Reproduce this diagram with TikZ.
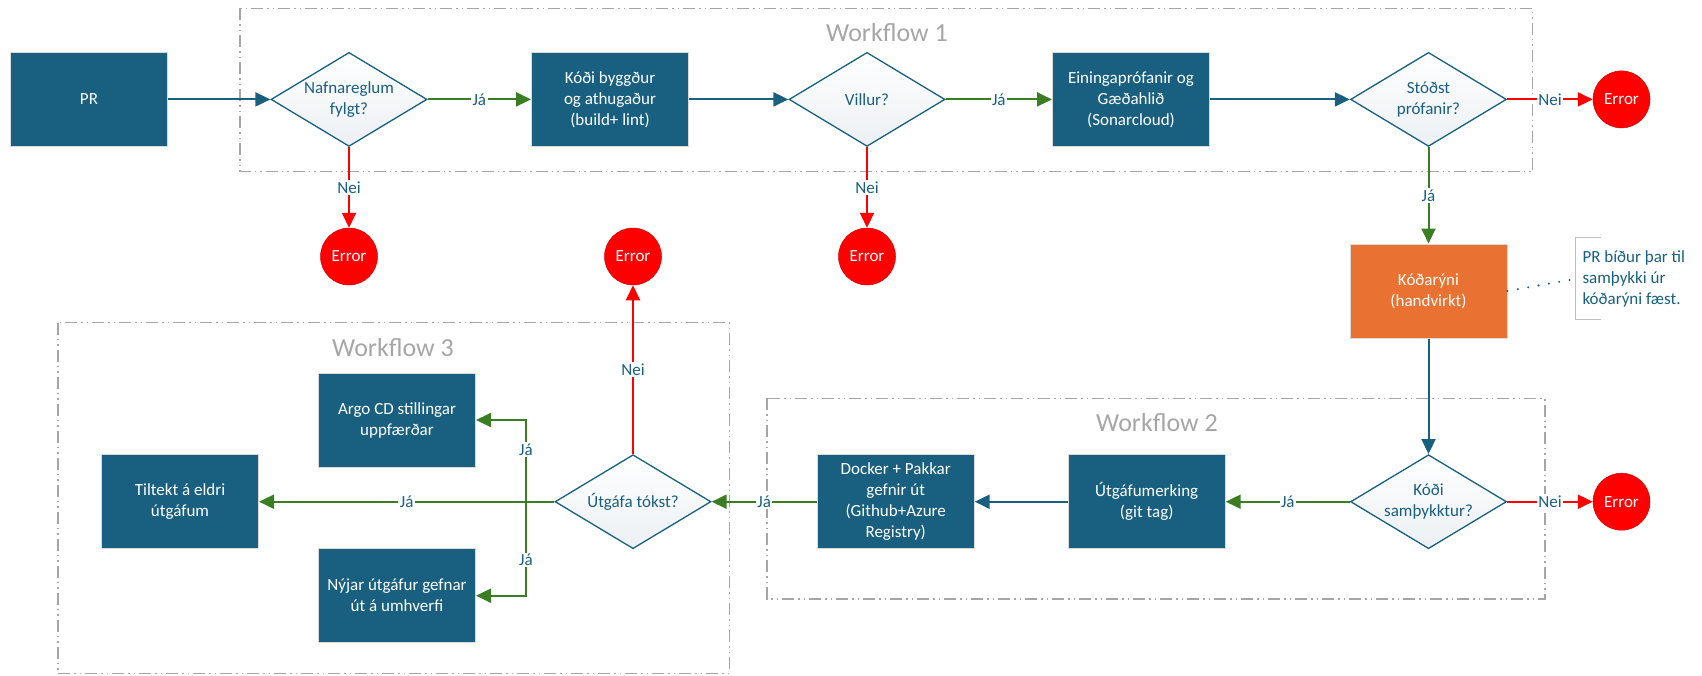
\documentclass[tikz,border=0pt]{standalone}
\usepackage{fontspec}
\setmainfont{Carlito}
\usetikzlibrary{shapes.geometric,arrows.meta}
\definecolor{boxblue}{RGB}{24,95,128}
\definecolor{yesgreen}{RGB}{58,125,34}
\definecolor{revieworange}{RGB}{233,113,50}
\definecolor{wfgray}{RGB}{166,166,166}
\definecolor{diafill}{RGB}{236,240,244}
\tikzset{
	txt/.style={font=\fontsize{17}{21}\selectfont, align=center},
	stage/.style={txt, draw=black!15, line width=1pt, fill=boxblue, text=white, minimum width=157pt, minimum height=94pt, inner sep=0pt},
	check/.style={diamond, draw=boxblue, line width=1.3pt, top color=white, bottom color=diafill, minimum width=156pt, minimum height=94pt, inner sep=0pt, label={[txt, text=boxblue]center:{#1}}},
	err/.style={circle, fill=red, draw=red!85!black, line width=.5pt, minimum size=57pt, inner sep=0pt, text=white, font=\fontsize{17}{21}\selectfont},
	flow/.style={line width=2pt, -{Triangle[length=15pt,width=14pt]}},
	go/.style={flow, boxblue},
	yes/.style={flow, yesgreen},
	no/.style={flow, red},
	lbl/.style={txt, fill=white, text=boxblue, inner sep=1.5pt},
	wf/.style={draw=wfgray, line width=1.5pt, dash pattern=on 12pt off 4pt on 1.5pt off 4pt on 1.5pt off 4pt},
	wftitle/.style={text=wfgray, font=\fontsize{26}{30}\selectfont}
}
\begin{document}
\begin{tikzpicture}[x=1pt, y=-1pt]
	\useasboundingbox (0,0) rectangle (1702,675);
	% workflow frames
	\draw[wf] (240,8.3) rectangle (1532.6,171.7);
	\draw[wf] (767,398.3) rectangle (1545,599);
	\draw[wf] (58,322.7) rectangle (729.5,673.3);
	\node[wftitle] (wf1) at (887,32.7) {Workflow 1};
	\node[wftitle] (wf2) at (1157,422.7) {Workflow 2};
	\node[wftitle] (wf3) at (393,348) {Workflow 3};

	% workflow 1
	\node[stage] (pr) at (89,99.4) {PR};
	\node[check={Nafnareglum\\fylgt?}] (names) at (349,99.4) {};
	\node[stage] (build) at (610,99.4) {Kóði byggður\\og athugaður\\(build+ lint)};
	\node[check={Villur?}] (bugs) at (867,99.4) {};
	\node[stage] (tests) at (1131,99.4) {Einingaprófanir og\\Gæðahlið\\(Sonarcloud)};
	\node[check={Stóðst\\prófanir?}] (passed) at (1428.5,99.4) {};
	\node[err] (err1) at (349,256.5) {Error};
	\node[err] (err2) at (867,256.5) {Error};
	\node[err] (err3) at (1621.5,99.4) {Error};
	\node[stage, fill=revieworange] (review) at (1428.5,291) {Kóðarýni\\(handvirkt)};

	% workflow 2
	\node[check={Kóði\\samþykktur?}] (approved) at (1428.5,501.7) {};
	\node[err] (err4) at (1621.5,501.7) {Error};
	\node[stage] (tag) at (1146.7,501.7) {Útgáfumerking\\(git tag)};
	\node[stage] (publish) at (895.7,501.7) {Docker + Pakkar\\gefnir út\\(Github+Azure\\Registry)};

	% workflow 3
	\node[check={Útgáfa tókst?}] (released) at (633,501.7) {};
	\node[err] (err5) at (633,256.5) {Error};
	\node[stage] (cleanup) at (180,501.7) {Tiltekt á eldri\\útgáfum};
	\node[stage] (argo) at (397,420) {Argo CD stillingar\\uppfærðar};
	\node[stage] (deploy) at (397,595.7) {Nýjar útgáfur gefnar\\út á umhverfi};

	% note
	\draw[black!25, line width=1pt] (1601,237.7) -- (1575,237.7) -- (1575,319) -- (1601,319);
	\coordinate (bracket) at (1575,279);
	\node[txt, align=left, text=boxblue, anchor=west] (note) at (1579,279) {PR bíður þar til\\samþykki úr\\kóðarýni fæst.};
	\draw[boxblue, line width=2.2pt, line cap=round, dash pattern=on 0pt off 10.5pt] (review.east) -- (bracket);

	% connectors
	\draw[go] (pr) -- (names);
	\draw[yes] (names) -- node[lbl]{Já} (build);
	\draw[no] (names) -- node[lbl]{Nei} (err1);
	\draw[go] (build) -- (bugs);
	\draw[yes] (bugs) -- node[lbl]{Já} (tests);
	\draw[no] (bugs) -- node[lbl]{Nei} (err2);
	\draw[go] (tests) -- (passed);
	\draw[no] (passed) -- node[lbl]{Nei} (err3);
	\draw[yes] (passed) -- node[lbl]{Já} (review);
	\draw[go] (review) -- (approved);
	\draw[yes] (approved) -- node[lbl]{Já} (tag);
	\draw[no] (approved) -- node[lbl]{Nei} (err4);
	\draw[go] (tag) -- (publish);
	\draw[yes] (publish) -- node[lbl]{Já} (released);
	\draw[no] (released) -- node[lbl]{Nei} (err5);
	\draw[yes] (released) -- node[lbl]{Já} (cleanup);
	\coordinate (split) at (526,501.7);
	\draw[yes] (released.west) -- (split) |- node[lbl, pos=.32]{Já} (argo);
	\draw[yes] (split) |- node[lbl, pos=.31]{Já} (deploy);
\end{tikzpicture}
\end{document}
